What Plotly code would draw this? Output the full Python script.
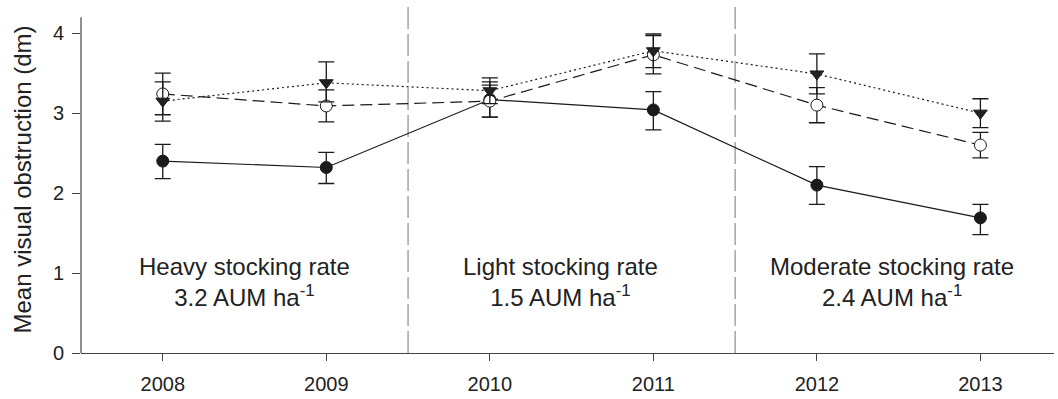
import plotly.graph_objects as go

years = [2008, 2009, 2010, 2011, 2012, 2013]

solid_vals = [2.40, 2.32, 3.17, 3.04, 2.10, 1.69]
solid_err_plus = [0.21, 0.19, 0.22, 0.23, 0.23, 0.17]
solid_err_minus = [0.22, 0.20, 0.22, 0.25, 0.24, 0.21]

open_vals = [3.24, 3.09, 3.15, 3.73, 3.10, 2.60]
open_err_plus = [0.26, 0.20, 0.20, 0.24, 0.22, 0.16]
open_err_minus = [0.26, 0.20, 0.20, 0.24, 0.22, 0.16]

tri_vals = [3.15, 3.38, 3.28, 3.78, 3.49, 3.00]
tri_err_plus = [0.24, 0.26, 0.16, 0.21, 0.25, 0.18]
tri_err_minus = [0.25, 0.24, 0.16, 0.21, 0.25, 0.18]

period_bounds = [2009.5, 2011.5]
period_x = [2008.5, 2010.43, 2012.46]
period_labels = [
    "Heavy stocking rate<br>3.2 AUM ha<sup>-1</sup>",
    "Light stocking rate<br>1.5 AUM ha<sup>-1</sup>",
    "Moderate stocking rate<br>2.4 AUM ha<sup>-1</sup>",
]

ink = "#1a1a1a"
font = "Liberation Sans, Arial, sans-serif"

fig = go.Figure()

def add_series(vals, ep, em, dash, symbol, fill, name):
    fig.add_trace(go.Scatter(
        x=years, y=vals, mode="lines+markers", name=name,
        line=dict(color=ink, width=1.2, dash=dash),
        marker=dict(symbol=symbol, size=12, color=fill,
                    line=dict(color=ink, width=1)),
        error_y=dict(type="data", array=ep, arrayminus=em, symmetric=False,
                     color=ink, thickness=1.3, width=8),
        showlegend=False,
    ))

add_series(solid_vals, solid_err_plus, solid_err_minus, "solid", "circle", ink, "Series 1")
add_series(open_vals, open_err_plus, open_err_minus, "12px,6px", "circle", "white", "Series 2")
add_series(tri_vals, tri_err_plus, tri_err_minus, "2px,3px", "triangle-down", "#222", "Series 3")

for xb in period_bounds:
    fig.add_shape(type="line", xref="x", yref="y", x0=xb, x1=xb, y0=0, y1=4.34,
                  line=dict(color="#8c8c8c", width=1.2, dash="22px,5px"), layer="below")

# left axis line (ends at 4.2)
fig.add_shape(type="line", xref="paper", yref="y", x0=0, x1=0, y0=0, y1=4.2,
              line=dict(color="#444", width=1.2))

for xp, lab in zip(period_x, period_labels):
    fig.add_annotation(x=xp, y=0.885, xref="x", yref="y", text=lab, showarrow=False,
                       font=dict(family=font, size=24, color="#222"), align="center",
                       xanchor="center", yanchor="middle")

fig.update_layout(
    width=1058, height=399,
    margin=dict(l=81, r=4, t=6, b=44),
    paper_bgcolor="white", plot_bgcolor="white",
    font=dict(family=font, color=ink),
    xaxis=dict(range=[2007.5, 2013.45], tickvals=years, ticktext=[str(y) for y in years],
               showgrid=False, zeroline=False, showline=True, linecolor="#444", linewidth=1.2,
               ticks="outside", ticklen=7, tickcolor="#444", tickwidth=1.2,
               tickfont=dict(size=20, family=font, color="#222"), ticklabelstandoff=6),
    yaxis=dict(range=[0, 4.34], tickvals=[0, 1, 2, 3, 4], showgrid=False, zeroline=False,
               showline=False, ticks="outside", ticklen=8, tickcolor="#444", tickwidth=1.2,
               tickfont=dict(size=20, family=font, color="#222"), ticklabelstandoff=4,
               title=dict(text="Mean visual obstruction (dm)", font=dict(size=24, family=font, color="#222"),
                          standoff=14)),
)

fig.write_html("out.html", config={"displayModeBar": False},
               post_script="document.body.style.margin='0';document.body.style.overflow='hidden';")
